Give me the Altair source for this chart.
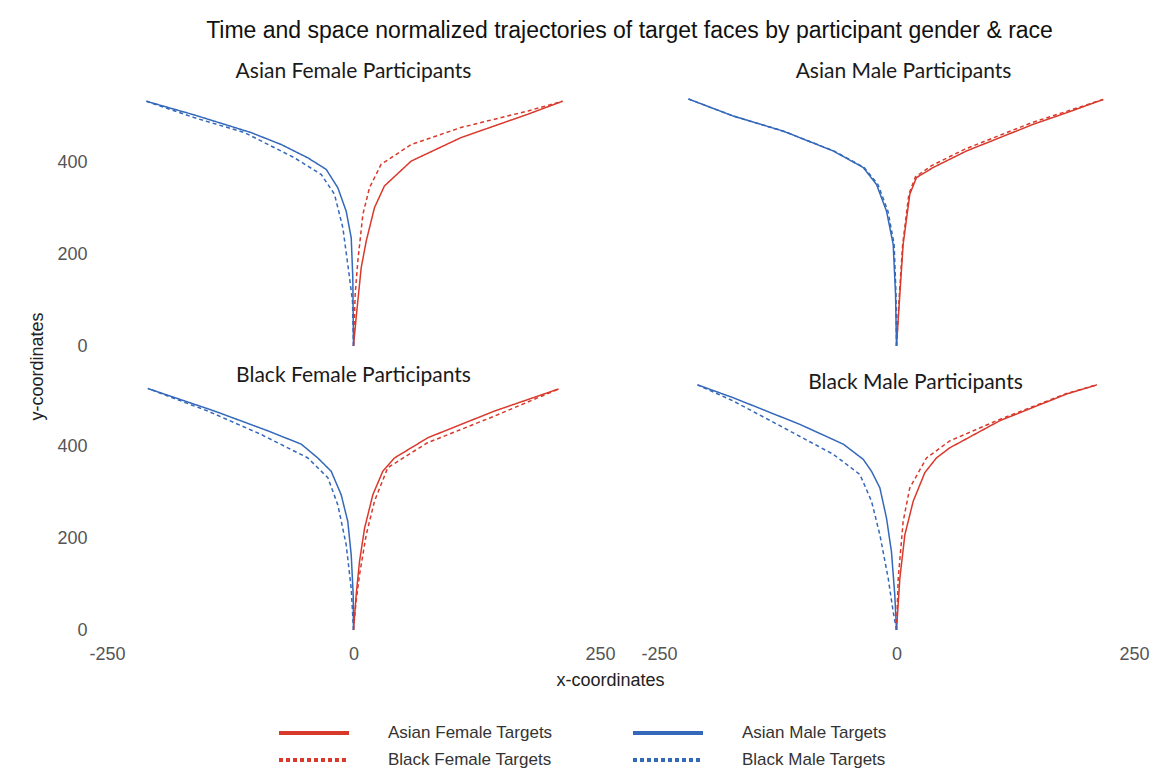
import altair as alt
import pandas as pd

TARGETS = ["Asian Female Targets", "Asian Male Targets", "Black Female Targets", "Black Male Targets"]
COLORS = ["#d9392b", "#3468ba", "#d9392b", "#3468ba"]
DASHES = [[1, 0], [1, 0], [4, 3], [4, 3]]
PANELS = ["Asian Female Participants", "Asian Male Participants",
          "Black Female Participants", "Black Male Participants"]

# ---- Asian Female Participants ----
afp_af_x = [0, 2.7, 7.8, 12.9, 21.3, 31.4, 58.5, 109, 177, 212]
afp_af_y = [0, 62, 170, 228, 301, 348, 402, 453, 504, 532]
afp_bf_x = [0, 1.7, 4.4, 9.5, 16.2, 28, 58.5, 109, 177, 212]
afp_bf_y = [0, 112, 185, 286, 344, 395, 438, 475, 511, 532]
afp_am_x = [0, -0.7, -2.3, -7.4, -15.9, -27.7, -46.3, -73.3, -104, -161, -210]
afp_am_y = [0, 148, 235, 293, 344, 384, 409, 438, 464, 502, 532]
afp_bm_x = [0, -1, -4, -10.8, -19.3, -32.8, -59.8, -110.5, -161, -210]
afp_bm_y = [0, 97, 148, 257, 330, 373, 409, 464, 496, 532]

# ---- Asian Male Participants ----
amp_af_x = [0, 3.5, 7, 14, 21, 38.6, 73.7, 144, 179, 217.6]
amp_af_y = [0, 112, 221, 330, 366, 388, 424, 482, 507, 536]
amp_bf_x = [0, 3, 6.5, 13, 20, 37, 72, 143, 179, 217.6]
amp_bf_y = [0, 112, 221, 330, 368, 392, 428, 486, 510, 536]
amp_am_x = [0, -1, -3.5, -10.5, -21, -35, -66.6, -119, -172, -219]
amp_am_y = [0, 112, 221, 293, 351, 388, 424, 467, 500, 537]
amp_bm_x = [0, -0.5, -2.5, -9, -19.5, -34, -66, -119, -172, -219]
amp_bm_y = [0, 112, 221, 293, 351, 388, 424, 467, 500, 537]

# ---- Black Female Participants ----
bfp_af_x = [0, 2.7, 6.1, 11.2, 19.6, 29.7, 41.6, 75.4, 143, 208]
bfp_af_y = [0, 76, 149, 221, 294, 345, 374, 418, 476, 524]
bfp_bf_x = [0, 2.5, 6.1, 12.9, 21.3, 34.8, 75, 143, 208]
bfp_bf_y = [0, 60, 120, 207, 280, 353, 407, 465, 524]
bfp_am_x = [0, -0.3, -2.3, -5.8, -12.5, -22.6, -36.2, -53, -86.9, -141, -208.6]
bfp_am_y = [0, 76, 163, 236, 294, 345, 374, 404, 433, 476, 525]
bfp_bm_x = [0, -2.3, -7.4, -15.9, -26, -46.3, -93.6, -147.8, -208.6]
bfp_bm_y = [0, 90, 185, 272, 331, 374, 425, 476, 525]

# ---- Black Male Participants ----
bmp_af_x = [0, 3.5, 8.8, 17.6, 29.8, 42, 56, 108.8, 179, 211]
bmp_af_y = [0, 112, 207, 280, 342, 374, 396, 455, 513, 533]
bmp_bf_x = [0, 1.8, 7, 14, 31.6, 56, 108.8, 179, 211]
bmp_bf_y = [0, 112, 236, 309, 374, 411, 458, 514, 533]
bmp_am_x = [0, -1.8, -5.3, -10.5, -17.5, -26.3, -35, -56, -101.7, -172, -209.5]
bmp_am_y = [0, 76, 170, 243, 309, 345, 371, 404, 447, 505, 533]
bmp_bm_x = [0, -3.5, -8.7, -17.5, -26.3, -38.5, -66.6, -119, -172, -209.5]
bmp_bm_y = [0, 40, 112, 207, 280, 338, 382, 440, 498, 533]

X_TICKS = [-250, 0, 250]
Y_TICKS = [0, 200, 400]
X_DOMAIN = [-250, 250]

series = [
    (PANELS[0], TARGETS[0], afp_af_x, afp_af_y), (PANELS[0], TARGETS[1], afp_am_x, afp_am_y),
    (PANELS[0], TARGETS[2], afp_bf_x, afp_bf_y), (PANELS[0], TARGETS[3], afp_bm_x, afp_bm_y),
    (PANELS[1], TARGETS[0], amp_af_x, amp_af_y), (PANELS[1], TARGETS[1], amp_am_x, amp_am_y),
    (PANELS[1], TARGETS[2], amp_bf_x, amp_bf_y), (PANELS[1], TARGETS[3], amp_bm_x, amp_bm_y),
    (PANELS[2], TARGETS[0], bfp_af_x, bfp_af_y), (PANELS[2], TARGETS[1], bfp_am_x, bfp_am_y),
    (PANELS[2], TARGETS[2], bfp_bf_x, bfp_bf_y), (PANELS[2], TARGETS[3], bfp_bm_x, bfp_bm_y),
    (PANELS[3], TARGETS[0], bmp_af_x, bmp_af_y), (PANELS[3], TARGETS[1], bmp_am_x, bmp_am_y),
    (PANELS[3], TARGETS[2], bmp_bf_x, bmp_bf_y), (PANELS[3], TARGETS[3], bmp_bm_x, bmp_bm_y),
]
rows = []
for p, t, xs, ys in series:
    for i, (xv, yv) in enumerate(zip(xs, ys)):
        rows.append({"panel": p, "target": t, "i": i, "x": xv, "y": yv})
df = pd.DataFrame(rows)

LEGEND = alt.Legend(
    title=None, orient="none", legendX=198, legendY=631, columns=2, direction="horizontal",
    values=TARGETS,
    symbolType="M-5,0H5", symbolSize=196, symbolStrokeWidth=4,
    labelFont="Liberation Sans", labelFontSize=17, labelColor="#333333", labelLimit=400,
    labelOffset=65, columnPadding=72, rowPadding=10,
)

def panel(name, width, show_x, show_y, title_offset, title_dx, x_title=False, y_title=False):
    if show_x:
        xaxis = alt.Axis(values=X_TICKS, labelFlush=False, labelExpr="'' + datum.value",
                         labelFont="Liberation Sans", labelFontSize=18, labelColor="#555555",
                         labelPadding=15, domain=False, ticks=False, grid=False,
                         title="x-coordinates" if x_title else None,
                         titleFont="Liberation Sans", titleFontSize=18, titleFontWeight="normal",
                         titleColor="#222222", titleX=503, titleY=50, titleBaseline="middle",
                         titleAlign="center")
    else:
        xaxis = None
    if show_y:
        yaxis = alt.Axis(values=Y_TICKS, labelFont="Liberation Sans", labelFontSize=18,
                         labelColor="#555555", labelPadding=20, domain=False, ticks=False,
                         grid=False,
                         title="y-coordinates" if y_title else None,
                         titleFont="Liberation Sans", titleFontSize=18, titleFontWeight="normal",
                         titleColor="#222222", titleX=-70, titleY=273, titleBaseline="middle",
                         titleAlign="center", titleAngle=270)
    else:
        yaxis = None
    return alt.Chart(df).transform_filter(alt.datum.panel == name).mark_line(
        strokeWidth=1.5, clip=False
    ).encode(
        x=alt.X("x:Q", scale=alt.Scale(domain=X_DOMAIN, nice=False, zero=False), axis=xaxis),
        y=alt.Y("y:Q", scale=alt.Scale(domain=[0, 550], nice=False), axis=yaxis),
        color=alt.Color("target:N", scale=alt.Scale(domain=TARGETS, range=COLORS), legend=LEGEND),
        strokeDash=alt.StrokeDash("target:N", scale=alt.Scale(domain=TARGETS, range=DASHES), legend=LEGEND),
        order=alt.Order("i:Q"),
    ).properties(
        width=width, height=253,
        title=alt.Title(name, font="Lato", fontSize=21, fontWeight="normal", color="#1a1a1a",
                        anchor="middle", baseline="bottom", offset=title_offset, dx=title_dx),
    )

p1 = panel(PANELS[0], 493, False, True, -10, 0, y_title=True)
p2 = panel(PANELS[1], 475, False, False, -10, 7)
p3 = panel(PANELS[2], 493, True, True, -30, 0, x_title=True)
p4 = panel(PANELS[3], 475, True, False, -37, 19)

chart = alt.concat(p1, p2, p3, p4, columns=2, spacing=alt.RowColnumber(row=31, column=59),
                   bounds="flush").resolve_scale(
    color="shared", strokeDash="shared"
).properties(
    title=alt.Title("Time and space normalized trajectories of target faces by participant gender & race",
                    font="Liberation Sans", fontSize=23, fontWeight="normal", color="#111111",
                    anchor="middle", offset=18, dx=41),
    padding={"left": 20, "top": 12, "right": 10, "bottom": 10},
    background="white",
).configure_view(stroke=None, strokeWidth=0)

chart.save("out.html", embed_options={"renderer": "svg", "actions": False})
